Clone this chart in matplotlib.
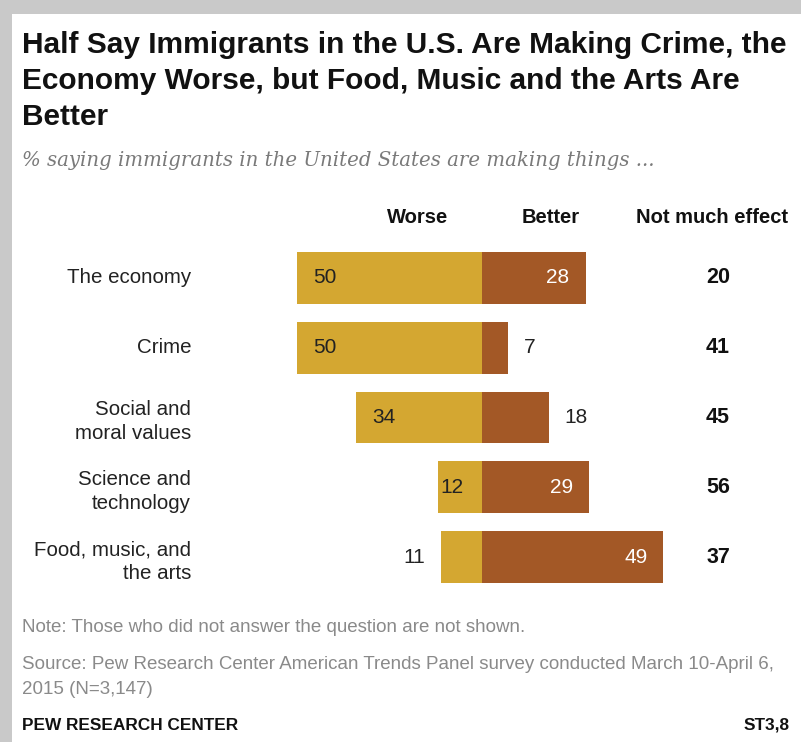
import matplotlib
matplotlib.use("Agg")
import matplotlib.pyplot as plt
from matplotlib.patches import Rectangle

categories = ["The economy", "Crime", "Social and\nmoral values",
              "Science and\ntechnology", "Food, music, and\nthe arts"]
worse = [50, 50, 34, 12, 11]
better = [28, 7, 18, 29, 49]
no_effect = [20, 41, 45, 56, 37]

title = ("Half Say Immigrants in the U.S. Are Making Crime, the\n"
         "Economy Worse, but Food, Music and the Arts Are\n"
         "Better")
subtitle = "% saying immigrants in the United States are making things ..."
note = "Note: Those who did not answer the question are not shown."
source = ("Source: Pew Research Center American Trends Panel survey conducted March 10-April 6,\n"
          "2015 (N=3,147)")

WORSE_C = "#d4a731"
BETTER_C = "#a35826"
SANS = ["Liberation Sans", "DejaVu Sans"]
SERIF = ["DejaVu Serif"]

W, H = 801, 742
fig = plt.figure(figsize=(W / 100, H / 100), dpi=100)
fig.patch.set_facecolor("#c9c9c9")
fig.patches.append(Rectangle((12 / W, 0), 1, 1 - 14 / H, transform=fig.transFigure,
                             facecolor="white", edgecolor="none", zorder=-5))


def fx(px):
    return px / W


def fy(py):
    return 1 - py / H


fig.text(fx(22), fy(31), title, family=SANS, weight="bold", fontsize=21.5,
         va="top", ha="left", linespacing=1.36, color="#111111")
fig.text(fx(22), fy(160), subtitle, family=SERIF, style="italic", fontsize=14.2,
         va="center", ha="left", color="#7a7a7a")

# axes: x from -60..60 over px 260..704, rows centred at 278 + 69.75*i
px_per = 3.7
x0 = 482
ax = fig.add_axes([fx(x0 - 60 * px_per), fy(592), 120 * px_per / W, (592 - 243) / H])
ax.set_xlim(-60, 60)
ax.set_ylim(4.5, -0.5)
ax.axis("off")

ys = list(range(len(categories)))
ax.barh(ys, [-w for w in worse], height=0.74, color=WORSE_C)
ax.barh(ys, better, height=0.74, color=BETTER_C)

pad = 16 / px_per
fs = 15
for i, (w, b, n, c) in enumerate(zip(worse, better, no_effect, categories)):
    # worse labels
    if w >= 12:
        p = pad if w > 20 else 0.8
        ax.text(-w + p, i, str(w), ha="left", va="center", fontsize=fs,
                family=SANS, color="#222222")
    else:
        ax.text(-w - pad, i, str(w), ha="right", va="center", fontsize=fs,
                family=SANS, color="#222222")
    # better labels
    if b >= 20:
        ax.text(b - pad, i, str(b), ha="right", va="center", fontsize=fs,
                family=SANS, color="white")
    else:
        ax.text(b + pad, i, str(b), ha="left", va="center", fontsize=fs,
                family=SANS, color="#222222")
    ax.text((718 - x0) / px_per, i, str(n), ha="center", va="center", fontsize=15.5,
            family=SANS, weight="bold", color="#111111")
    ax.text((191 - x0) / px_per, i + (0.06 if "\n" in c else 0), c, ha="right",
            va="center", multialignment="right", fontsize=14.8, family=SANS,
            linespacing=1.3, color="#222222")

hy = (218 - 278) / 69.75
for lbl, xp in [("Worse", 418), ("Better", 551), ("Not much effect", 712)]:
    ax.text((xp - x0) / px_per, hy, lbl, ha="center", va="center", fontsize=14.5,
            family=SANS, weight="bold", color="#111111")

fig.text(fx(22), fy(627), note, family=SANS, fontsize=13.5, va="center",
         ha="left", color="#8a8a8a")
fig.text(fx(22), fy(656), source, family=SANS, fontsize=13.5, va="top",
         ha="left", color="#8a8a8a", linespacing=1.65)
fig.text(fx(22), fy(725), "PEW RESEARCH CENTER", family=SANS, weight="bold",
         fontsize=12.4, va="center", ha="left", color="#111111")
fig.text(fx(790), fy(725), "ST3,8", family=SANS, weight="bold",
         fontsize=12.4, va="center", ha="right", color="#111111")

fig.savefig("out.png", dpi=100, facecolor=fig.get_facecolor())
